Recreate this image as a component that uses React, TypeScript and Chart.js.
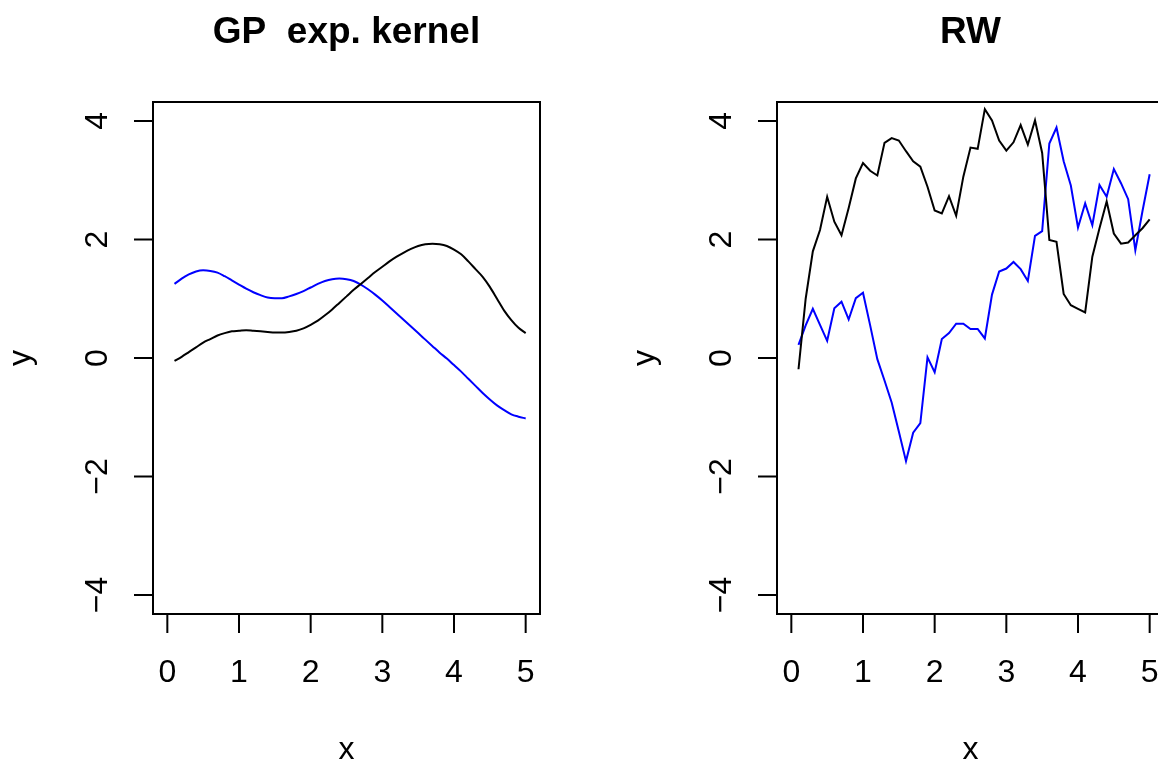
import React, { useEffect, useRef } from "react";
import { Chart, registerables } from "chart.js";

Chart.register(...registerables);

// ---------- data ----------
const xValues = [
  0.1, 0.2, 0.3, 0.4, 0.5, 0.6, 0.7, 0.8, 0.9, 1.0,
  1.1, 1.2, 1.3, 1.4, 1.5, 1.6, 1.7, 1.8, 1.9, 2.0,
  2.1, 2.2, 2.3, 2.4, 2.5, 2.6, 2.7, 2.8, 2.9, 3.0,
  3.1, 3.2, 3.3, 3.4, 3.5, 3.6, 3.7, 3.8, 3.9, 4.0,
  4.1, 4.2, 4.3, 4.4, 4.5, 4.6, 4.7, 4.8, 4.9, 5.0,
];

const gpBlack = [
  -0.05, 0.02, 0.10, 0.18, 0.26, 0.32, 0.38, 0.42, 0.45, 0.46,
  0.47, 0.46, 0.45, 0.44, 0.43, 0.43, 0.44, 0.46, 0.50, 0.56,
  0.63, 0.72, 0.82, 0.93, 1.04, 1.15, 1.25, 1.35, 1.45, 1.54,
  1.63, 1.71, 1.78, 1.84, 1.89, 1.92, 1.93, 1.92, 1.89, 1.83,
  1.75, 1.63, 1.50, 1.37, 1.20, 1.00, 0.80, 0.64, 0.51, 0.42,
];

const gpBlue = [
  1.25, 1.34, 1.41, 1.46, 1.48, 1.47, 1.44, 1.38, 1.31, 1.24,
  1.17, 1.11, 1.06, 1.02, 1.01, 1.01, 1.04, 1.08, 1.13, 1.19,
  1.25, 1.30, 1.33, 1.34, 1.33, 1.30, 1.24, 1.16, 1.07, 0.97,
  0.86, 0.75, 0.64, 0.53, 0.42, 0.31, 0.20, 0.09, -0.01, -0.12,
  -0.23, -0.35, -0.47, -0.59, -0.70, -0.80, -0.88, -0.95, -0.99, -1.02,
];

const rwBlack = [
  -0.19, 1.00, 1.80, 2.16, 2.72, 2.30, 2.07, 2.53, 3.03, 3.29,
  3.16, 3.08, 3.63, 3.71, 3.67, 3.49, 3.32, 3.23, 2.89, 2.49,
  2.44, 2.73, 2.40, 3.06, 3.55, 3.53, 4.20, 4.01, 3.67, 3.50,
  3.64, 3.93, 3.60, 4.01, 3.46, 1.99, 1.96, 1.08, 0.89, 0.83,
  0.77, 1.71, 2.19, 2.64, 2.10, 1.93, 1.95, 2.07, 2.19, 2.34,
];

const rwBlue = [
  0.22, 0.55, 0.83, 0.56, 0.29, 0.84, 0.95, 0.65, 1.01, 1.10,
  0.55, -0.02, -0.38, -0.75, -1.24, -1.74, -1.26, -1.10, 0.01, -0.24,
  0.32, 0.42, 0.58, 0.58, 0.49, 0.49, 0.33, 1.07, 1.46, 1.51,
  1.62, 1.50, 1.30, 2.06, 2.14, 3.62, 3.89, 3.32, 2.91, 2.20,
  2.61, 2.24, 2.92, 2.72, 3.19, 2.95, 2.68, 1.82, 2.48, 3.10,
];

const xTicks = [0, 1, 2, 3, 4, 5];
const yTicks = [-4, -2, 0, 2, 4];
const panelTitles = ["GP  exp. kernel", "RW"];
const xLabel = "x";
const yLabel = "y";

// ---------- style ----------
const FONT = '"Liberation Sans", Arial, Helvetica, sans-serif';
const PANEL_W = 624;
const PANEL_H = 764;

const fmt = (v: number) => (v < 0 ? "\u2212" + String(-v) : String(v));

const rAxesPlugin = {
  id: "rAxes",
  afterDraw(chart: any, _args: any, opts: any) {
    const ctx = chart.ctx as CanvasRenderingContext2D;
    const { left, right, top, bottom } = chart.chartArea;
    const xs = chart.scales.x;
    const ys = chart.scales.y;
    const tickLen = 19;
    ctx.save();
    ctx.strokeStyle = "#000";
    ctx.lineWidth = 2;
    ctx.lineCap = "butt";
    ctx.strokeRect(left, top, right - left, bottom - top);

    ctx.beginPath();
    ctx.moveTo(xs.getPixelForValue(xTicks[0]), bottom);
    ctx.lineTo(xs.getPixelForValue(xTicks[xTicks.length - 1]), bottom);
    xTicks.forEach((v) => {
      const px = xs.getPixelForValue(v);
      ctx.moveTo(px, bottom);
      ctx.lineTo(px, bottom + tickLen);
    });
    ctx.moveTo(left, ys.getPixelForValue(yTicks[0]));
    ctx.lineTo(left, ys.getPixelForValue(yTicks[yTicks.length - 1]));
    yTicks.forEach((v) => {
      const py = ys.getPixelForValue(v);
      ctx.moveTo(left, py);
      ctx.lineTo(left - tickLen, py);
    });
    ctx.stroke();

    ctx.fillStyle = "#000";
    ctx.textAlign = "center";
    ctx.textBaseline = "alphabetic";
    ctx.font = `32px ${FONT}`;
    xTicks.forEach((v) => {
      ctx.fillText(fmt(v), xs.getPixelForValue(v), bottom + 68);
    });
    yTicks.forEach((v) => {
      ctx.save();
      ctx.translate(left - 46, ys.getPixelForValue(v));
      ctx.rotate(-Math.PI / 2);
      ctx.fillText(fmt(v), 0, 0);
      ctx.restore();
    });
    const cx = (left + right) / 2;
    const cy = (top + bottom) / 2;
    ctx.fillText(xLabel, cx, bottom + 145);
    ctx.save();
    ctx.translate(left - 123, cy);
    ctx.rotate(-Math.PI / 2);
    ctx.fillText(yLabel, 0, 0);
    ctx.restore();

    ctx.font = `bold 37px ${FONT}`;
    ctx.fillText(opts.title, cx, top - 59);
    ctx.restore();
  },
};

function makePoints(ys: number[]) {
  return xValues.map((x, i) => ({ x, y: ys[i] }));
}

function Panel(props: { title: string; black: number[]; blue: number[]; smooth: boolean }) {
  const ref = useRef<HTMLCanvasElement | null>(null);
  useEffect(() => {
    if (!ref.current) return;
    const chart = new Chart(ref.current, {
      type: "line",
      data: {
        datasets: [
          {
            data: makePoints(props.black),
            borderColor: "#000000",
            borderWidth: 2,
            pointRadius: 0,
            fill: false,
            cubicInterpolationMode: props.smooth ? "monotone" : "default",
            tension: 0,
          },
          {
            data: makePoints(props.blue),
            borderColor: "#0000FF",
            borderWidth: 2,
            pointRadius: 0,
            fill: false,
            cubicInterpolationMode: props.smooth ? "monotone" : "default",
            tension: 0,
          },
        ],
      },
      options: {
        animation: false,
        responsive: false,
        devicePixelRatio: 1,
        layout: { padding: { left: 153, right: 84, top: 102, bottom: 150 } },
        scales: {
          x: { type: "linear", min: -0.2, max: 5.2, display: false },
          y: { type: "linear", min: -4.32, max: 4.32, display: false },
        },
        plugins: {
          legend: { display: false },
          tooltip: { enabled: false },
          title: { display: false },
          rAxes: { title: props.title },
        } as any,
      },
      plugins: [rAxesPlugin as any],
    });
    return () => chart.destroy();
  }, []);
  return (
    <canvas
      ref={ref}
      width={PANEL_W}
      height={PANEL_H}
      style={{ display: "block", width: PANEL_W, height: PANEL_H }}
    />
  );
}

export default function App() {
  return (
    <div
      style={{
        position: "fixed",
        left: 0,
        top: 0,
        width: 1158,
        height: 764,
        overflow: "hidden",
        background: "#fff",
      }}
    >
      <div style={{ position: "absolute", left: 0, top: 0 }}>
        <Panel title={panelTitles[0]} black={gpBlack} blue={gpBlue} smooth={true} />
      </div>
      <div style={{ position: "absolute", left: PANEL_W, top: 0 }}>
        <Panel title={panelTitles[1]} black={rwBlack} blue={rwBlue} smooth={false} />
      </div>
    </div>
  );
}
